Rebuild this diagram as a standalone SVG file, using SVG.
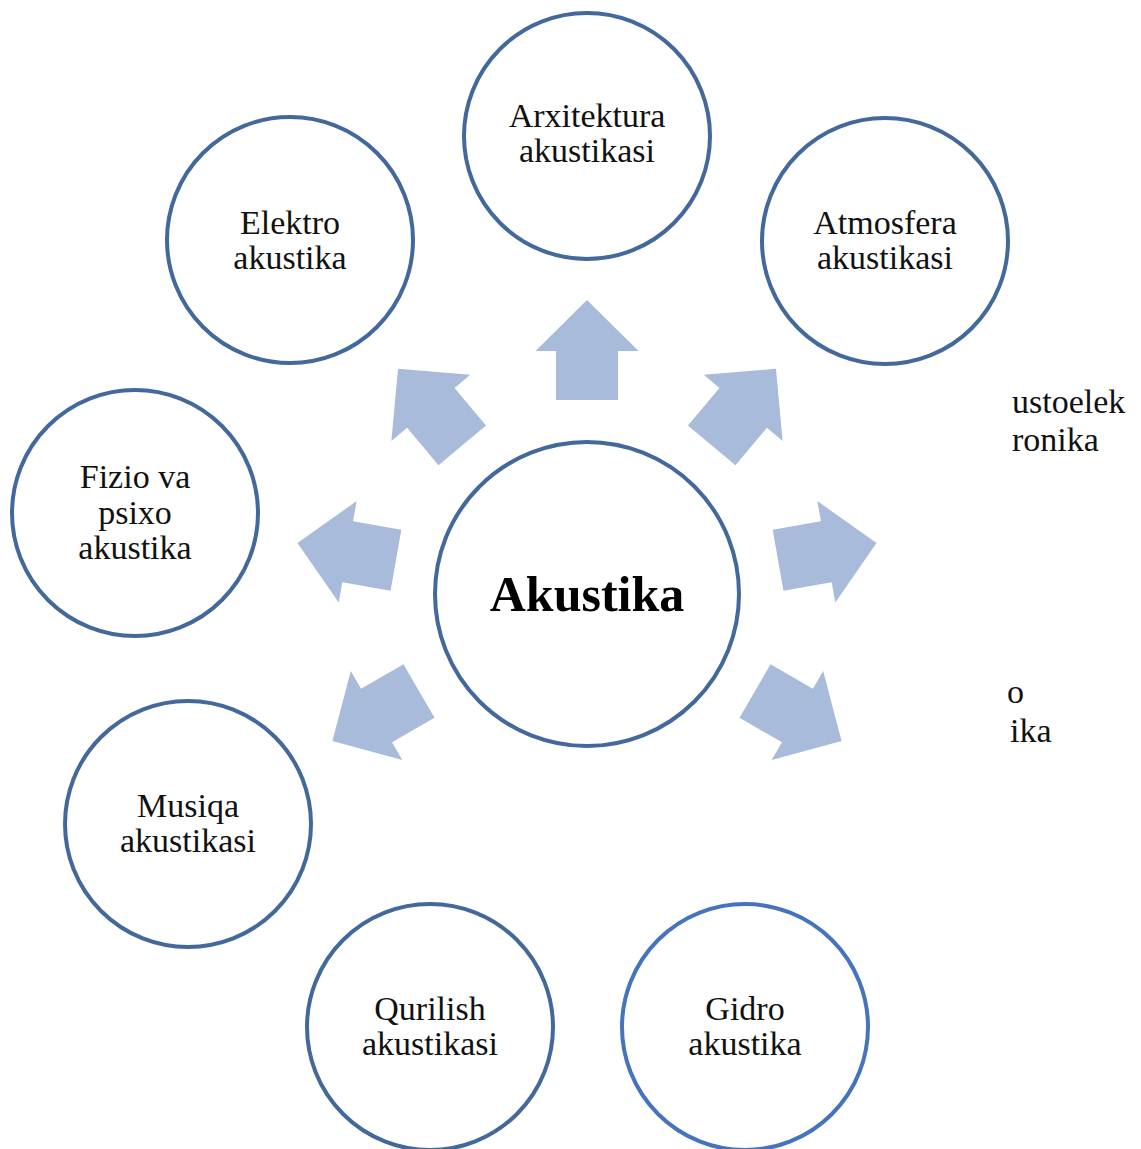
<svg xmlns="http://www.w3.org/2000/svg" xmlns:xlink="http://www.w3.org/1999/xlink" width="1141" height="1149" viewBox="0 0 1141 1149">
<defs>
<style>
.node{fill:#ffffff;stroke:#43689B;stroke-width:4}
.node2{fill:#ffffff;stroke:#4673BE;stroke-width:4}
.lbl{font-family:"Liberation Serif","Times New Roman",serif;font-size:34px;fill:#111111;text-anchor:middle}
.lblL{font-family:"Liberation Serif","Times New Roman",serif;font-size:34px;fill:#111111;text-anchor:start}
.main{font-family:"Liberation Serif","Times New Roman",serif;font-size:50px;font-weight:bold;fill:#000000;text-anchor:middle}
.arr{fill:#A9BBDB}
</style>
<path id="arrow" d="M0,-294 L51.5,-243 L31,-243 L31,-194 L-31,-194 L-31,-243 L-51.5,-243 Z"/>
</defs>
<rect width="1141" height="1149" fill="#ffffff"/>
<g id="connectors" class="arr">
<use xlink:href="#arrow" href="#arrow" transform="translate(587,594) rotate(0)"/>
<use xlink:href="#arrow" href="#arrow" transform="translate(587,594) rotate(40)"/>
<use xlink:href="#arrow" href="#arrow" transform="translate(587,594) rotate(80)"/>
<use xlink:href="#arrow" href="#arrow" transform="translate(587,594) rotate(120)"/>
<use xlink:href="#arrow" href="#arrow" transform="translate(587,594) rotate(-120)"/>
<use xlink:href="#arrow" href="#arrow" transform="translate(587,594) rotate(-80)"/>
<use xlink:href="#arrow" href="#arrow" transform="translate(587,594) rotate(-40)"/>
</g>
<g id="node-akustika">
<circle class="node" cx="587" cy="594" r="152"/>
<text class="main" x="587" y="611">Akustika</text>
</g>
<g id="node-arxitektura">
<circle class="node" cx="587" cy="136" r="123"/>
<text class="lbl" x="587" y="127">Arxitektura</text>
<text class="lbl" x="587" y="162">akustikasi</text>
</g>
<g id="node-atmosfera">
<circle class="node" cx="885" cy="241" r="123"/>
<text class="lbl" x="885" y="234">Atmosfera</text>
<text class="lbl" x="885" y="269">akustikasi</text>
</g>
<g id="node-akustoelektronika">
<text class="lblL" x="1012" y="413">ustoelek</text>
<text class="lblL" x="1012" y="451">ronika</text>
</g>
<g id="node-bio">
<text class="lblL" x="1007" y="703">o</text>
<text class="lblL" x="1010" y="742">ika</text>
</g>
<g id="node-gidro">
<circle class="node2" cx="745" cy="1027" r="123"/>
<text class="lbl" x="745" y="1020">Gidro</text>
<text class="lbl" x="745" y="1055">akustika</text>
</g>
<g id="node-qurilish">
<circle class="node" cx="430" cy="1027" r="123"/>
<text class="lbl" x="430" y="1020">Qurilish</text>
<text class="lbl" x="430" y="1055">akustikasi</text>
</g>
<g id="node-musiqa">
<circle class="node" cx="188" cy="824" r="123"/>
<text class="lbl" x="188" y="817">Musiqa</text>
<text class="lbl" x="188" y="852">akustikasi</text>
</g>
<g id="node-fizio">
<circle class="node" cx="135" cy="513" r="123"/>
<text class="lbl" x="135" y="488">Fizio va</text>
<text class="lbl" x="135" y="524">psixo</text>
<text class="lbl" x="135" y="559">akustika</text>
</g>
<g id="node-elektro">
<circle class="node" cx="290" cy="240" r="123"/>
<text class="lbl" x="290" y="234">Elektro</text>
<text class="lbl" x="290" y="269">akustika</text>
</g>
</svg>
